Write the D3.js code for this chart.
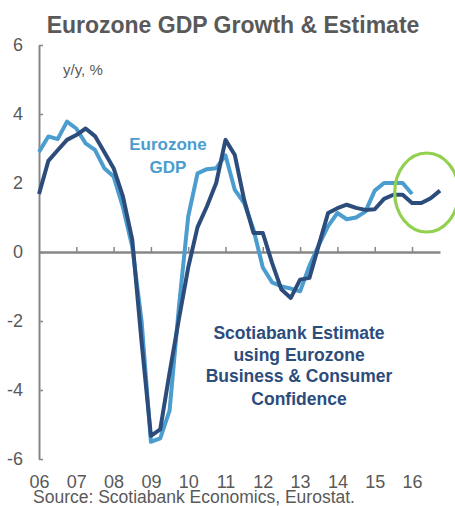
<!DOCTYPE html>
<html>
<head>
<meta charset="utf-8">
<script src="https://cdn.jsdelivr.net/npm/d3@7"></script>
<style>
  html, body { margin: 0; padding: 0; background: #fff; }
  svg { display: block; font-family: "Liberation Sans", Arial, sans-serif; }
</style>
</head>
<body>
<svg id="chart" width="455" height="506"></svg>
<script>
// Quarterly observations, 2006Q1 onwards
const quarters = [
  "2006Q1","2006Q2","2006Q3","2006Q4","2007Q1","2007Q2","2007Q3","2007Q4",
  "2008Q1","2008Q2","2008Q3","2008Q4","2009Q1","2009Q2","2009Q3","2009Q4",
  "2010Q1","2010Q2","2010Q3","2010Q4","2011Q1","2011Q2","2011Q3","2011Q4",
  "2012Q1","2012Q2","2012Q3","2012Q4","2013Q1","2013Q2","2013Q3","2013Q4",
  "2014Q1","2014Q2","2014Q3","2014Q4","2015Q1","2015Q2","2015Q3","2015Q4",
  "2016Q1","2016Q2","2016Q3","2016Q4"
];

// Eurozone real GDP, y/y %
const gdpActual = [
  2.9, 3.35, 3.27, 3.78, 3.58, 3.15, 2.96, 2.43,
  2.19, 1.3, 0.15, -2.0, -5.5, -5.4, -4.6, -1.6,
  1.03, 2.28, 2.4, 2.43, 2.8, 1.8, 1.42, 0.65,
  -0.45, -0.88, -1.0, -1.06, -1.14, -0.4, 0.2, 0.75,
  1.13, 0.95, 1.0, 1.17, 1.78, 2.0, 2.0, 2.0,
  1.68
];

// Scotiabank estimate from business & consumer confidence, y/y %
const gdpEstimate = [
  1.68, 2.64, 2.95, 3.25, 3.39, 3.58, 3.36, 2.9,
  2.43, 1.61, 0.36, -2.6, -5.33, -5.14, -3.5, -1.95,
  -0.45, 0.72, 1.32, 2.0, 3.25, 2.81, 1.51, 0.55,
  0.55, -0.32, -1.09, -1.33, -0.8, -0.75, 0.2, 1.13,
  1.27, 1.37, 1.28, 1.22, 1.24, 1.54, 1.66, 1.66,
  1.42, 1.42, 1.56, 1.78
];

const yTicks = [-6, -4, -2, 0, 2, 4, 6];
const xTickYears = [2006, 2007, 2008, 2009, 2010, 2011, 2012, 2013, 2014, 2015, 2016];

const toYear = q => +q.slice(0, 4) + (+q.slice(5) - 1) / 4;

const svg = d3.select("#chart");
const grey = "#595959";
const axisGrey = "#878787";
const lightBlue = "#4c9dcf";
const navy = "#2c4c7c";

const x = d3.scaleLinear().domain([2006, 2016.75]).range([39, 440]);
const y = d3.scaleLinear().domain([-6, 6]).range([459, 45]);

// Title
svg.append("text")
  .attr("x", 233).attr("y", 33)
  .attr("text-anchor", "middle")
  .attr("font-size", 23).attr("font-weight", "bold")
  .attr("fill", grey)
  .text("Eurozone GDP Growth & Estimate");

// Y axis
const yAxis = svg.append("g")
  .attr("transform", `translate(${x(2006)},0)`)
  .call(d3.axisLeft(y).tickValues(yTicks).tickFormat(d => String(d))
    .tickSize(-4).tickSizeOuter(0).tickPadding(16));
yAxis.select(".domain").attr("stroke", axisGrey).attr("stroke-width", 2);
yAxis.selectAll(".tick line").attr("stroke", axisGrey).attr("stroke-width", 1.5);
yAxis.selectAll(".tick text")
  .attr("fill", grey).attr("font-size", 18)
  .attr("font-family", "Liberation Sans, Arial, sans-serif");

// Zero line with upward year ticks
const xAxis = svg.append("g")
  .attr("transform", `translate(0,${y(0)})`)
  .call(d3.axisBottom(x).tickValues(xTickYears.slice(1)).tickFormat("")
    .tickSize(-5).tickSizeOuter(0));
xAxis.select(".domain").attr("stroke", axisGrey).attr("stroke-width", 2.5);
xAxis.selectAll(".tick line").attr("stroke", axisGrey).attr("stroke-width", 1.5);

// Year labels along the bottom
const xLabels = svg.append("g")
  .attr("transform", "translate(0,475)")
  .call(d3.axisBottom(x).tickValues(xTickYears)
    .tickFormat(d => String(d).slice(2)).tickSize(0).tickPadding(0));
xLabels.select(".domain").remove();
xLabels.selectAll(".tick text")
  .attr("fill", grey).attr("font-size", 18)
  .attr("font-family", "Liberation Sans, Arial, sans-serif");

// Unit label
svg.append("text")
  .attr("x", 63).attr("y", 75)
  .attr("font-size", 15).attr("fill", grey)
  .text("y/y, %");

// Series lines
const line = d3.line()
  .x(d => x(d.t))
  .y(d => y(d.v));

const actualPts = gdpActual.map((v, i) => ({ t: toYear(quarters[i]), v }));
const estimatePts = gdpEstimate.map((v, i) => ({ t: toYear(quarters[i]), v }));

svg.append("path")
  .datum(actualPts)
  .attr("d", line)
  .attr("fill", "none")
  .attr("stroke", lightBlue)
  .attr("stroke-width", 4)
  .attr("stroke-linejoin", "round");

svg.append("path")
  .datum(estimatePts)
  .attr("d", line)
  .attr("fill", "none")
  .attr("stroke", navy)
  .attr("stroke-width", 4)
  .attr("stroke-linejoin", "round");

// Series annotations
const gdpLabel = svg.append("text")
  .attr("text-anchor", "middle")
  .attr("font-size", 17).attr("font-weight", "bold")
  .attr("fill", lightBlue);
[["Eurozone", 150], ["GDP", 172.5]].forEach(([t, yy]) =>
  gdpLabel.append("tspan").attr("x", 168).attr("y", yy).text(t));

const estLabel = svg.append("text")
  .attr("text-anchor", "middle")
  .attr("font-size", 17.5).attr("font-weight", "bold")
  .attr("fill", navy);
[["Scotiabank Estimate", 338.5], ["using Eurozone", 361], ["Business & Consumer", 382], ["Confidence", 405]]
  .forEach(([t, yy]) => estLabel.append("tspan").attr("x", 299).attr("y", yy).text(t));

// Highlight around the latest estimates
svg.append("ellipse")
  .attr("cx", 426.7).attr("cy", 192.5)
  .attr("rx", 32).attr("ry", 39.5)
  .attr("fill", "none")
  .attr("stroke", "#92d050")
  .attr("stroke-width", 3.2);

// Source
svg.append("text")
  .attr("x", 33).attr("y", 503)
  .attr("font-size", 17.5).attr("fill", grey)
  .text("Source: Scotiabank Economics, Eurostat.");
</script>
</body>
</html>
